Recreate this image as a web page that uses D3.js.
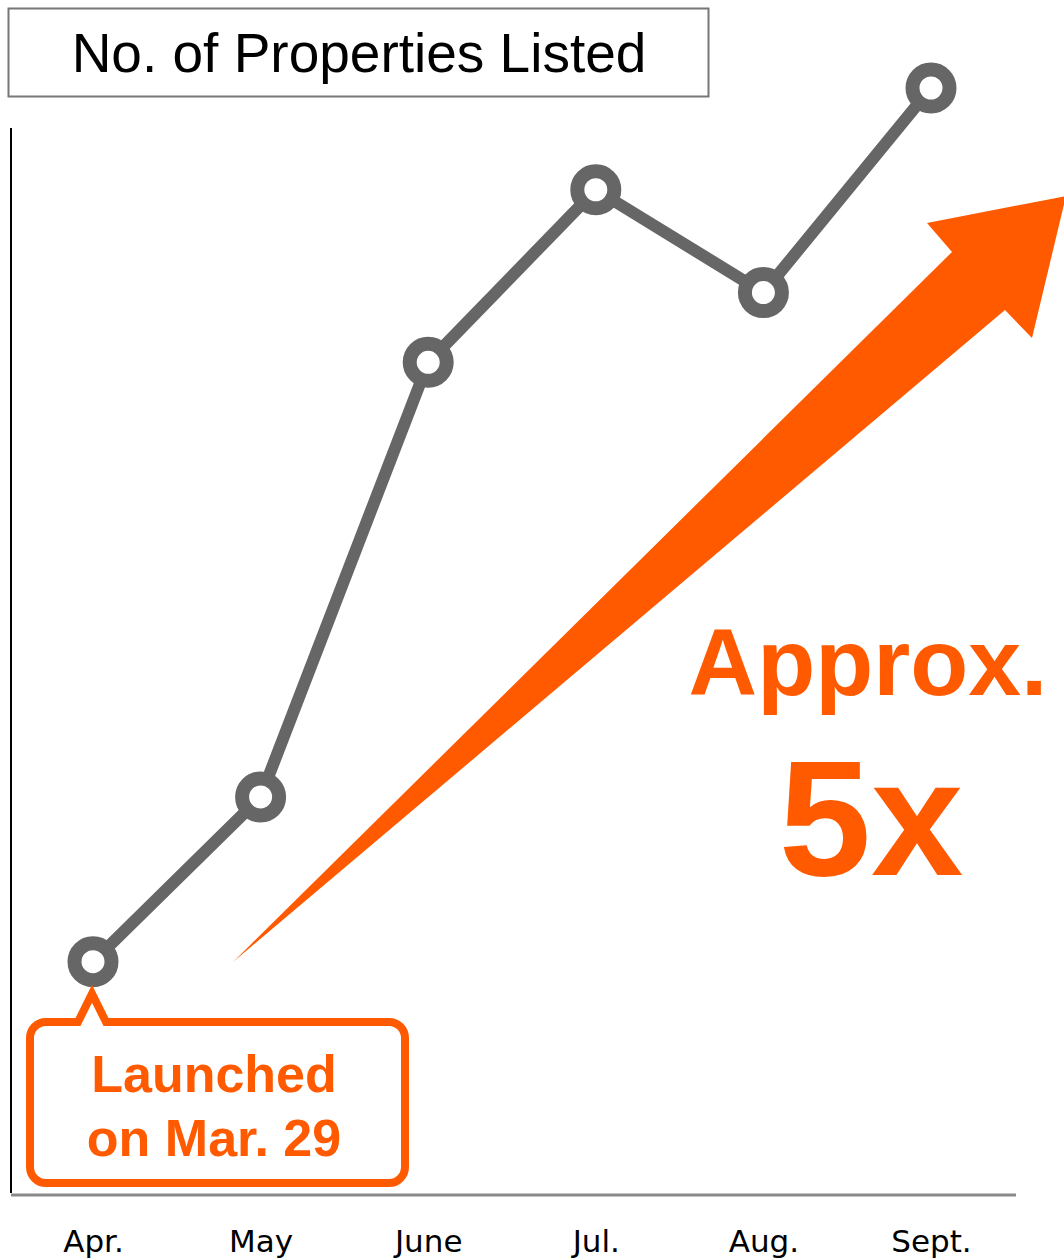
<!DOCTYPE html>
<html>
<head>
<meta charset="utf-8">
<script src="https://cdn.jsdelivr.net/npm/d3@7"></script>
<style>
  html, body { margin: 0; padding: 0; background: #fff; }
  svg { display: block; }
</style>
</head>
<body>
<div id="chart"></div>
<script>
// ---- data ----
const months = ["Apr.", "May", "June", "Jul.", "Aug.", "Sept."];
const listed = [21.0, 35.9, 75.2, 90.8, 81.5, 100];
const title = "No. of Properties Listed";
const calloutLines = ["Launched", "on Mar. 29"];
const growthLines = ["Approx.", "5x"];

const W = 1064, H = 1260;
const orange = "#FF5A00";
const grey = "#666666";

const svg = d3.select("#chart").append("svg")
  .attr("width", W).attr("height", H);

const x = d3.scalePoint().domain(months).range([93, 931]);
const y = d3.scaleLinear().domain([0, 100]).range([1194, 88]);

// title box
svg.append("rect")
  .attr("x", 8.5).attr("y", 8.5).attr("width", 700).attr("height", 88)
  .attr("fill", "#fff").attr("stroke", "#777").attr("stroke-width", 2);
svg.append("text")
  .attr("x", 359).attr("y", 72)
  .attr("text-anchor", "middle")
  .attr("font-family", "Liberation Sans, Arial, sans-serif")
  .attr("font-size", 55)
  .attr("fill", "#000")
  .text(title);

// axes
svg.append("line")
  .attr("x1", 11).attr("x2", 11).attr("y1", 128).attr("y2", 1193)
  .attr("stroke", "#000").attr("stroke-width", 2);

const xAxis = d3.axisBottom(x).tickSize(0).tickPadding(0);
const gx = svg.append("g").attr("transform", "translate(0,1195)").call(xAxis);
gx.select(".domain").remove();
gx.append("line")
  .attr("x1", 11).attr("x2", 1016).attr("y1", 0).attr("y2", 0)
  .attr("stroke", "#8a8a8a").attr("stroke-width", 3);
gx.selectAll(".tick text")
  .attr("y", 57)
  .attr("dy", 0)
  .attr("font-family", "DejaVu Sans, Verdana, sans-serif")
  .attr("font-size", 31)
  .attr("fill", "#000");

// growth arrow (annotation)
const arrowPts = [[233, 962], [952, 252], [927, 223], [1066, 196], [1032, 338], [1005, 310]];
svg.append("path")
  .attr("d", d3.line()(arrowPts) + "Z")
  .attr("fill", orange);

// line series
const line = d3.line().x((d, i) => x(months[i])).y(d => y(d));
svg.append("path")
  .datum(listed)
  .attr("d", line)
  .attr("fill", "none")
  .attr("stroke", grey)
  .attr("stroke-width", 12)
  .attr("stroke-linejoin", "round");

svg.selectAll("circle.pt")
  .data(listed)
  .join("circle")
  .attr("class", "pt")
  .attr("cx", (d, i) => x(months[i]))
  .attr("cy", d => y(d))
  .attr("r", 18.5)
  .attr("fill", "#fff")
  .attr("stroke", grey)
  .attr("stroke-width", 14);

// callout bubble
const bx0 = 30, bx1 = 405, by0 = 1022, by1 = 1183, r = 16;
const px0 = 78, px1 = 106, pax = x(months[0]) - 1, pay = y(listed[0]) + 32;
const bubble = d3.path();
bubble.moveTo(bx0 + r, by0);
bubble.lineTo(px0, by0);
bubble.lineTo(pax, pay);
bubble.lineTo(px1, by0);
bubble.lineTo(bx1 - r, by0);
bubble.arcTo(bx1, by0, bx1, by0 + r, r);
bubble.lineTo(bx1, by1 - r);
bubble.arcTo(bx1, by1, bx1 - r, by1, r);
bubble.lineTo(bx0 + r, by1);
bubble.arcTo(bx0, by1, bx0, by1 - r, r);
bubble.lineTo(bx0, by0 + r);
bubble.arcTo(bx0, by0, bx0 + r, by0, r);
bubble.closePath();
svg.append("path")
  .attr("d", bubble.toString())
  .attr("fill", "#fff")
  .attr("stroke", orange)
  .attr("stroke-width", 8)
  .attr("stroke-linejoin", "miter");

svg.selectAll("text.callout")
  .data(calloutLines)
  .join("text")
  .attr("class", "callout")
  .attr("x", 214)
  .attr("y", (d, i) => 1092 + i * 64)
  .attr("text-anchor", "middle")
  .attr("font-family", "Liberation Sans, Arial, sans-serif")
  .attr("font-weight", "bold")
  .attr("font-size", 52)
  .attr("fill", orange)
  .text(d => d);

// growth text with white halo
const growthSizes = [95, 166];
const growthY = [695, 875];
const growthX = [868, 871];
svg.selectAll("text.growth")
  .data(growthLines)
  .join("text")
  .attr("class", "growth")
  .attr("x", (d, i) => growthX[i])
  .attr("y", (d, i) => growthY[i])
  .attr("text-anchor", "middle")
  .attr("font-family", "Liberation Sans, Arial, sans-serif")
  .attr("font-weight", "bold")
  .attr("font-size", (d, i) => growthSizes[i])
  .attr("fill", orange)
  .attr("stroke", "#fff")
  .attr("stroke-width", 8)
  .attr("stroke-linejoin", "round")
  .attr("paint-order", "stroke")
  .text(d => d);
</script>
</body>
</html>
